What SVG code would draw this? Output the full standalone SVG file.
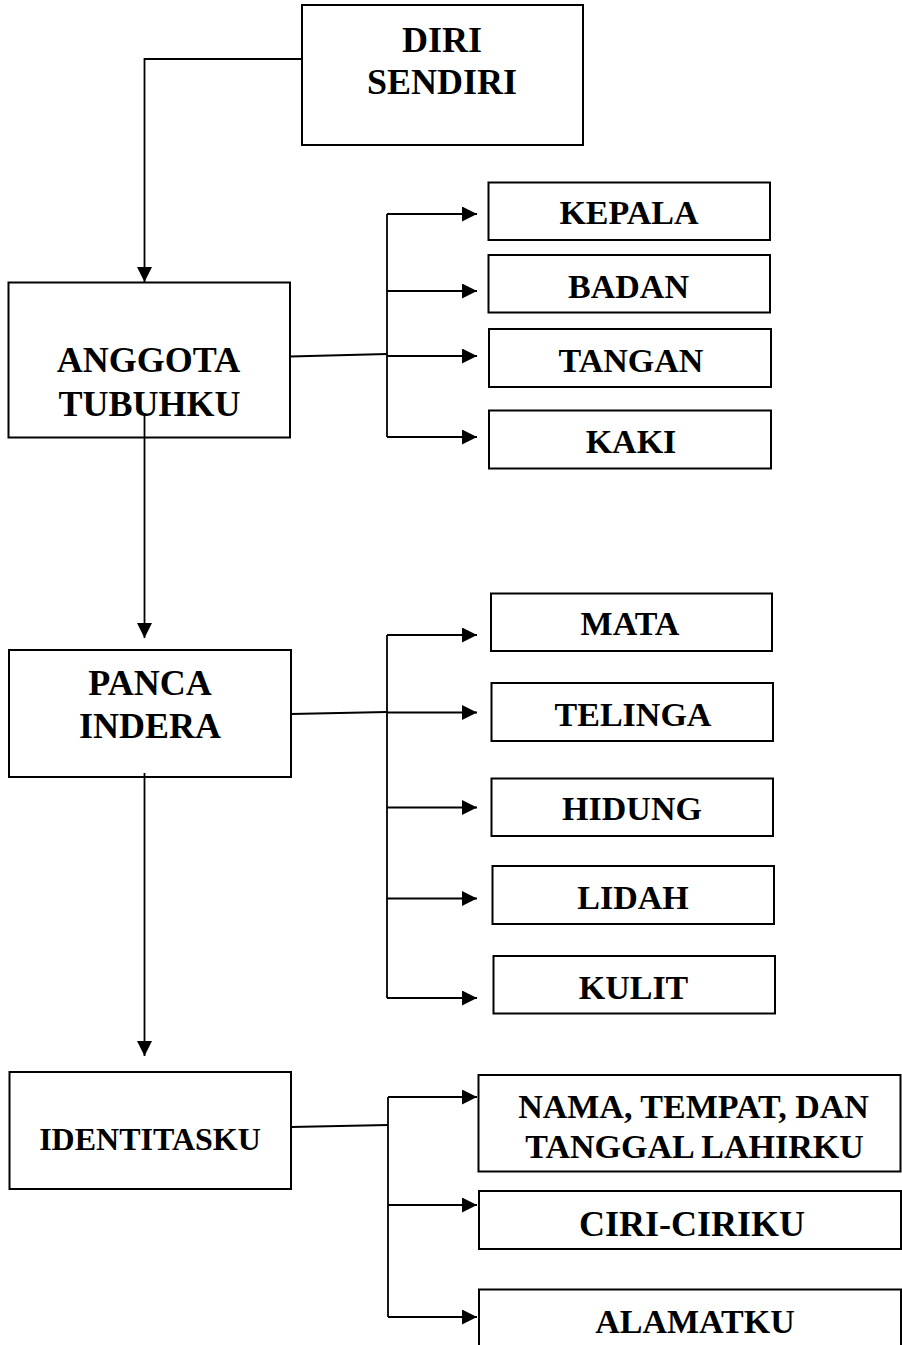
<svg xmlns="http://www.w3.org/2000/svg" width="902" height="1345" viewBox="0 0 902 1345">
<style>
  .box { fill: #ffffff; stroke: #000000; stroke-width: 2; }
  .lbl { font-family: "Liberation Serif", "Times New Roman", serif; font-weight: bold; fill: #000000; text-anchor: middle; }
  .big { font-size: 36px; }
  .sm { font-size: 34px; }
  .id { font-size: 32px; }
  .con { fill: none; stroke: #000000; stroke-width: 1.8; }
  .arr { fill: none; stroke: #000000; stroke-width: 1.8; marker-end: url(#ah); }
</style>
<defs>
  <marker id="ah" markerUnits="userSpaceOnUse" markerWidth="16" markerHeight="16" refX="15" refY="7.5" orient="auto">
    <path d="M0,0 L15,7.5 L0,15 Z" fill="#000000"/>
  </marker>
</defs>
<rect width="902" height="1345" fill="#ffffff"/>

<g id="connectors">
  <path class="arr" d="M302,59 H144.5 V282"/>
  <path class="arr" d="M144.5,413 V638"/>
  <path class="arr" d="M144.5,773 V1056"/>

  <path class="con" d="M290,356.5 L387,354"/>
  <path class="con" d="M387,214 V437"/>
  <path class="arr" d="M387,214 H477"/>
  <path class="arr" d="M387,291 H477"/>
  <path class="arr" d="M387,356 H477"/>
  <path class="arr" d="M387,437 H477"/>

  <path class="con" d="M291,714 L387,712"/>
  <path class="con" d="M387,635 V998"/>
  <path class="arr" d="M387,635 H477"/>
  <path class="arr" d="M387,712.5 H477"/>
  <path class="arr" d="M387,807.5 H477"/>
  <path class="arr" d="M387,898.5 H477"/>
  <path class="arr" d="M387,998 H477"/>

  <path class="con" d="M291,1127 L388,1125"/>
  <path class="con" d="M388,1097 V1317"/>
  <path class="arr" d="M388,1097 H477"/>
  <path class="arr" d="M388,1205 H477"/>
  <path class="arr" d="M388,1317 H477"/>
</g>

<g id="diri-sendiri">
  <rect class="box" x="302" y="5" width="281" height="140"/>
  <text class="lbl big" x="442" y="52">DIRI</text>
  <text class="lbl big" x="442" y="94">SENDIRI</text>
</g>

<g id="anggota-tubuhku">
  <rect class="box" x="8.5" y="282.5" width="281.5" height="155"/>
  <text class="lbl big" x="148.5" y="371.5">ANGGOTA</text>
  <text class="lbl big" x="149.5" y="415.5">TUBUHKU</text>
</g>
<path class="con" d="M144.5,413 V437"/>

<g id="panca-indera">
  <rect class="box" x="9" y="650" width="282" height="127"/>
  <text class="lbl big" x="150" y="695">PANCA</text>
  <text class="lbl big" x="150" y="738">INDERA</text>
</g>
<path class="con" d="M144.5,773 V777"/>

<g id="identitasku">
  <rect class="box" x="9.5" y="1072" width="281.5" height="117"/>
  <text class="lbl id" x="150" y="1150">IDENTITASKU</text>
</g>

<g id="kepala">
  <rect class="box" x="488.5" y="182.5" width="281.5" height="57.5"/>
  <text class="lbl sm" x="629" y="224">KEPALA</text>
</g>
<g id="badan">
  <rect class="box" x="488.5" y="255" width="281.5" height="57.5"/>
  <text class="lbl sm" x="628.5" y="298">BADAN</text>
</g>
<g id="tangan">
  <rect class="box" x="489" y="329" width="282" height="58"/>
  <text class="lbl sm" x="631" y="371.5">TANGAN</text>
</g>
<g id="kaki">
  <rect class="box" x="489" y="410.5" width="282" height="58"/>
  <text class="lbl sm" x="631" y="453">KAKI</text>
</g>

<g id="mata">
  <rect class="box" x="491" y="593.5" width="281" height="57.5"/>
  <text class="lbl sm" x="630" y="635">MATA</text>
</g>
<g id="telinga">
  <rect class="box" x="491.5" y="683" width="281.5" height="58"/>
  <text class="lbl sm" x="633" y="726">TELINGA</text>
</g>
<g id="hidung">
  <rect class="box" x="491.5" y="778.5" width="281.5" height="57.5"/>
  <text class="lbl sm" x="632" y="820">HIDUNG</text>
</g>
<g id="lidah">
  <rect class="box" x="492.5" y="866" width="281.5" height="58"/>
  <text class="lbl sm" x="633" y="909">LIDAH</text>
</g>
<g id="kulit">
  <rect class="box" x="493.5" y="956" width="281.5" height="57.5"/>
  <text class="lbl sm" x="633.5" y="999">KULIT</text>
</g>

<g id="nama">
  <rect class="box" x="478.5" y="1075" width="422" height="96.5"/>
  <text class="lbl sm" x="693.5" y="1118">NAMA, TEMPAT, DAN</text>
  <text class="lbl sm" x="694.5" y="1158">TANGGAL LAHIRKU</text>
</g>
<g id="ciri-ciriku">
  <rect class="box" x="479" y="1191" width="422" height="58"/>
  <text class="lbl big" x="692" y="1236">CIRI-CIRIKU</text>
</g>
<g id="alamatku">
  <rect class="box" x="479" y="1289.5" width="422" height="80"/>
  <text class="lbl sm" x="695" y="1333">ALAMATKU</text>
</g>
</svg>
